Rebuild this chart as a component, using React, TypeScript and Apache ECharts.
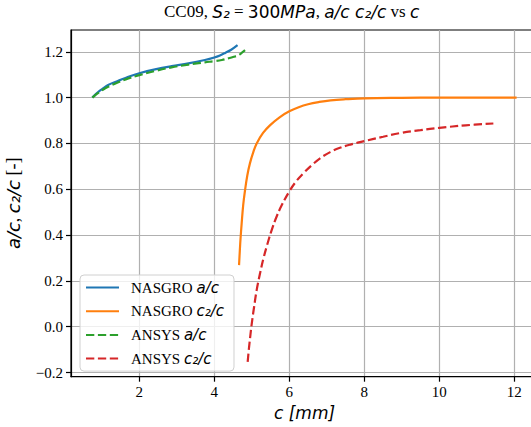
import { useEffect, useRef } from "react";
import * as echarts from "echarts";

const xTicks = [2, 4, 6, 8, 10, 12];
const yTicks = [-0.2, 0, 0.2, 0.4, 0.6, 0.8, 1.0, 1.2];

const nasgroAcX = [0.75, 0.82, 0.91, 1.0, 1.17, 1.44, 1.71, 2.0, 2.42, 2.86, 3.31, 3.75, 4.0, 4.15, 4.29, 4.45, 4.62];
const nasgroAcY = [1.0, 1.012, 1.025, 1.036, 1.055, 1.073, 1.091, 1.106, 1.123, 1.137, 1.149, 1.164, 1.175, 1.184, 1.195, 1.209, 1.229];

const ansysAcX = [0.75, 0.82, 0.91, 1.0, 1.17, 1.44, 1.71, 2.0, 2.42, 2.86, 3.31, 3.75, 4.0, 4.2, 4.37, 4.52, 4.64, 4.73, 4.82];
const ansysAcY = [1.0, 1.01, 1.021, 1.031, 1.047, 1.067, 1.084, 1.098, 1.116, 1.132, 1.144, 1.154, 1.159, 1.164, 1.171, 1.178, 1.185, 1.195, 1.207];

const nasgroC2X = [4.66, 4.68, 4.7, 4.73, 4.77, 4.82, 4.88, 4.95, 5.04, 5.13, 5.3, 5.49, 5.75, 6.0, 6.25, 6.5, 6.8, 7.1, 7.5, 8.0, 9.0, 10.0, 11.0, 12.06];
const nasgroC2Y = [0.269, 0.33, 0.385, 0.451, 0.53, 0.596, 0.66, 0.713, 0.762, 0.8, 0.846, 0.88, 0.915, 0.94, 0.958, 0.971, 0.981, 0.988, 0.993, 0.997, 0.999, 1.0, 1.0, 1.0];

const ansysC2X = [4.89, 4.93, 5.0, 5.06, 5.13, 5.22, 5.31, 5.42, 5.53, 5.66, 5.8, 6.02, 6.2, 6.37, 6.6, 6.82, 7.09, 7.35, 7.65, 8.0, 8.5, 8.95, 9.5, 10.0, 10.7, 11.44];
const ansysC2Y = [-0.153, -0.085, 0.015, 0.085, 0.16, 0.233, 0.298, 0.363, 0.422, 0.48, 0.531, 0.596, 0.638, 0.669, 0.705, 0.735, 0.762, 0.781, 0.796, 0.81, 0.829, 0.845, 0.858, 0.868, 0.879, 0.887];

const seriesNames = ["NASGRO a/c", "NASGRO c2/c", "ANSYS a/c", "ANSYS c2/c"];
const legendLabels: Record<string, string> = {
  "NASGRO a/c": "{p|}{s|NASGRO }{m|a/c}",
  "NASGRO c2/c": "{p|}{s|NASGRO }{m|c₂/c}",
  "ANSYS a/c": "{p|}{s|ANSYS }{m|a/c}",
  "ANSYS c2/c": "{p|}{s|ANSYS }{m|c₂/c}",
};

const zip = (xs: number[], ys: number[]) => xs.map((x, i) => [x, ys[i]]);

const SERIF = "Liberation Serif";
const SANS = "DejaVu Sans";

export default function App() {
  const ref = useRef<HTMLDivElement>(null);
  useEffect(() => {
    document.body.style.margin = "0";
    const chart = echarts.init(ref.current!, null, { renderer: "svg" });
    const dash = [8.3, 3.6];
    const mk = (name: string, xs: number[], ys: number[], color: string, dashed: boolean) => ({
      name,
      type: "line",
      data: zip(xs, ys),
      showSymbol: false,
      symbol: "none",
      smooth: 0.4,
      clip: true,
      lineStyle: { color, width: 2.2, type: dashed ? dash : "solid" },
      itemStyle: { color },
    });
    const mathRich = (size: number) => ({
      s: { fontFamily: SERIF, fontSize: size, fontWeight: "normal", color: "#000" },
      m: { fontFamily: SANS, fontStyle: "italic", fontSize: size, fontWeight: "normal", color: "#000" },
      u: { fontFamily: SANS, fontSize: size, fontWeight: "normal", color: "#000" },
    });
    chart.setOption({
      animation: false,
      title: {
        text: "{s|CC09, }{m|S₂}{s| = }{u|300}{m|MPa}{s|, }{m|a/c c₂/c}{s| vs }{m|c}",
        left: 164,
        top: 3,
        padding: 0,
        textStyle: { fontWeight: "normal", fontSize: 17, rich: mathRich(17) },
      },
      grid: {
        left: 71,
        top: 30,
        bottom: 50.3,
        right: -7,
        show: true,
        borderColor: "#000",
        borderWidth: 1.2,
        backgroundColor: "transparent",
        containLabel: false,
        outerBoundsMode: "none",
      },
      legend: {
        orient: "vertical",
        left: 80,
        top: 275,
        data: seriesNames,
        itemWidth: 33,
        itemHeight: 14,
        itemGap: 8.7,
        padding: [5, 10, 5, 5],
        borderColor: "#d0d0d0",
        borderWidth: 1,
        borderRadius: 4,
        backgroundColor: "rgba(255,255,255,0.8)",
        itemStyle: { color: "rgba(0,0,0,0)", borderWidth: 0, opacity: 0 },
        formatter: (n: string) => legendLabels[n],
        textStyle: {
          rich: {
            p: { width: 7 },
            s: { fontFamily: SERIF, fontSize: 15, color: "#000" },
            m: { fontFamily: SANS, fontStyle: "italic", fontSize: 15, color: "#000" },
          },
        },
      },
      xAxis: {
        type: "value",
        min: 0.18,
        max: 12.63,
        name: "c [mm]",
        nameLocation: "middle",
        nameGap: 28,
        nameTextStyle: { fontFamily: SANS, fontStyle: "italic", fontSize: 17, color: "#000" },
        axisLine: { show: true, onZero: false, lineStyle: { color: "#000", width: 1.2 } },
        axisTick: { show: true, customValues: xTicks, length: 5, inside: false, lineStyle: { color: "#000", width: 1.2 } },
        axisLabel: {
          customValues: xTicks,
          fontFamily: SERIF,
          fontSize: 15,
          color: "#000",
          margin: 8,
          formatter: (v: number) => String(v),
        },
        splitLine: { show: true, lineStyle: { color: "#b0b0b0", width: 1.2 } },
      },
      yAxis: {
        type: "value",
        min: -0.218,
        max: 1.295,
        name: "{m|a/c}{s|, }{m|c₂/c}{s| [-]}",
        nameLocation: "middle",
        nameRotate: 90,
        nameGap: 49,
        nameTextStyle: { rich: mathRich(18) },
        axisLine: { show: true, onZero: false, lineStyle: { color: "#000", width: 1.2 } },
        axisTick: { show: true, customValues: yTicks, length: 5, inside: false, lineStyle: { color: "#000", width: 1.2 } },
        axisLabel: {
          customValues: yTicks,
          fontFamily: SERIF,
          fontSize: 15,
          color: "#000",
          margin: 8,
          formatter: (v: number) => (v < -1e-9 ? "−" : "") + Math.abs(v).toFixed(1),
        },
        splitLine: { show: true, lineStyle: { color: "#b0b0b0", width: 1.2 } },
      },
      series: [
        mk(seriesNames[0], nasgroAcX, nasgroAcY, "#1f77b4", false),
        mk(seriesNames[1], nasgroC2X, nasgroC2Y, "#ff7f0e", false),
        mk(seriesNames[2], ansysAcX, ansysAcY, "#2ca02c", true),
        mk(seriesNames[3], ansysC2X, ansysC2Y, "#d62728", true),
      ],
    });
    return () => chart.dispose();
  }, []);
  return <div ref={ref} style={{ width: 531, height: 427 }} />;
}
